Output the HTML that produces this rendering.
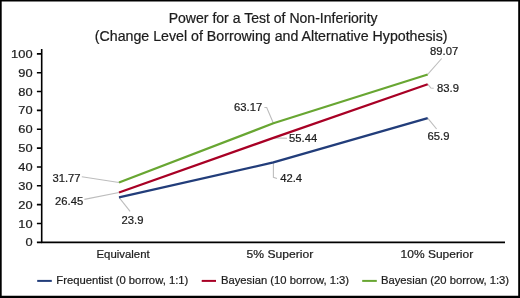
<!DOCTYPE html>
<html><head><meta charset="utf-8">
<style>
html,body{margin:0;padding:0;background:#fff;}
body{width:520px;height:298px;overflow:hidden;}
svg{display:block;font-family:"Liberation Sans",Arial,sans-serif;fill:#1c1c1c;}
text{stroke:#1c1c1c;stroke-width:0.22px;}
</style></head><body>
<svg width="520" height="298" viewBox="0 0 520 298">
<rect x="0" y="0" width="520" height="298" fill="#fff"/>
<!-- border -->
<path d="M0 0H520V298H0Z M1.7 1.5V295.7H518.2V1.5Z" fill="#000" fill-rule="evenodd"/>
<!-- title -->
<g font-size="14" fill="#1c1c1c" style="stroke-width:0.08px">
<text x="168.7" y="22.9" textLength="208.9" lengthAdjust="spacingAndGlyphs">Power for a Test of Non-Inferiority</text>
<text x="94.8" y="41.1" textLength="352.7" lengthAdjust="spacingAndGlyphs">(Change Level of Borrowing and Alternative Hypothesis)</text>
</g>
<!-- axes -->
<g stroke="#000" stroke-width="1.6" fill="none">
<path d="M41.7 49V242.35H505"/>
<path d="M36.9 242.35H41.7M36.9 223.5H41.7M36.9 204.65H41.7M36.9 185.8H41.7M36.9 166.95H41.7M36.9 148.1H41.7M36.9 129.25H41.7M36.9 110.4H41.7M36.9 91.55H41.7M36.9 72.7H41.7M36.9 53.85H41.7"/>
</g>
<g font-size="11.8">
<text x="11.1" y="57.85" textLength="21.45" lengthAdjust="spacingAndGlyphs">100</text>
<text x="18.25" y="76.7" textLength="14.3" lengthAdjust="spacingAndGlyphs">90</text>
<text x="18.25" y="95.55" textLength="14.3" lengthAdjust="spacingAndGlyphs">80</text>
<text x="18.25" y="114.4" textLength="14.3" lengthAdjust="spacingAndGlyphs">70</text>
<text x="18.25" y="133.25" textLength="14.3" lengthAdjust="spacingAndGlyphs">60</text>
<text x="18.25" y="152.1" textLength="14.3" lengthAdjust="spacingAndGlyphs">50</text>
<text x="18.25" y="170.95" textLength="14.3" lengthAdjust="spacingAndGlyphs">40</text>
<text x="18.25" y="189.8" textLength="14.3" lengthAdjust="spacingAndGlyphs">30</text>
<text x="18.25" y="208.65" textLength="14.3" lengthAdjust="spacingAndGlyphs">20</text>
<text x="18.25" y="227.5" textLength="14.3" lengthAdjust="spacingAndGlyphs">10</text>
<text x="25.4" y="246.35" textLength="7.15" lengthAdjust="spacingAndGlyphs">0</text>
</g>
<!-- leaders -->
<g stroke="#bdbdbd" stroke-width="1.1" fill="none">
<path d="M81.8 176.8L119.0 182.46"/>
<path d="M84.4 199.4L119.0 192.49"/>
<path d="M119.0 197.3L130.1 211.3"/>
<path d="M264.4 107.5H266.7L273.4 123.27"/>
<path d="M273.4 137.85L287 138.3"/>
<path d="M273.4 162.43V177.4L277 178.5"/>
<path d="M441.7 58.5L427.7 74.45"/>
<path d="M427.7 84.2L430.9 88L433.7 88.3"/>
<path d="M427.7 118.13L436.6 129"/>
</g>
<!-- series -->
<g stroke-width="2.25" fill="none" stroke-linejoin="round">
<path d="M119.0 197.3L273.4 162.43L427.7 118.13" stroke="#223d7a"/>
<path d="M119.0 192.49L273.4 137.85L427.7 84.2" stroke="#a80025"/>
<path d="M119.0 182.46L273.4 123.27L427.7 74.45" stroke="#68a632"/>
</g>
<!-- data labels -->
<g font-size="11.25">
<text x="52.4" y="181.55">31.77</text>
<text x="55.0" y="204.75">26.45</text>
<text x="121.6" y="223.55">23.9</text>
<text x="234.0" y="111.45">63.17</text>
<text x="289.0" y="142.05">55.44</text>
<text x="280.2" y="182.05">42.4</text>
<text x="430.1" y="55.15">89.07</text>
<text x="437.0" y="92.05">83.9</text>
<text x="427.5" y="140.15">65.9</text>
</g>
<!-- x labels -->
<g font-size="11.5" style="stroke-width:0.12px">
<text x="96.5" y="257.5" textLength="53.2" lengthAdjust="spacingAndGlyphs">Equivalent</text>
<text x="246.6" y="257.5" textLength="66.6" lengthAdjust="spacingAndGlyphs">5% Superior</text>
<text x="400.6" y="257.5" textLength="72.6" lengthAdjust="spacingAndGlyphs">10% Superior</text>
</g>
<!-- legend -->
<g stroke-width="2" fill="none">
<path d="M37.2 280.9H51.8" stroke="#223d7a"/>
<path d="M201.7 280.9H216" stroke="#a80025"/>
<path d="M362.2 280.9H376.8" stroke="#68a632"/>
</g>
<g font-size="11.4">
<text x="56.3" y="284.05" textLength="132" lengthAdjust="spacingAndGlyphs">Frequentist (0 borrow, 1:1)</text>
<text x="220.9" y="284.05" textLength="128.2" lengthAdjust="spacingAndGlyphs">Bayesian (10 borrow, 1:3)</text>
<text x="380.9" y="284.05" textLength="128.2" lengthAdjust="spacingAndGlyphs">Bayesian (20 borrow, 1:3)</text>
</g>
</svg>
</body></html>
